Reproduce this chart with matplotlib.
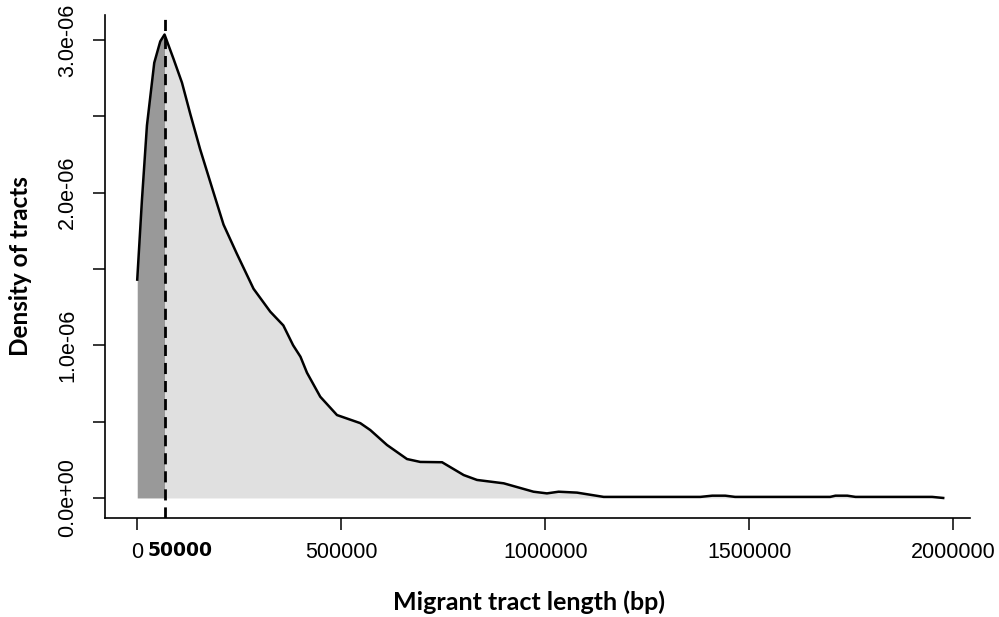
import numpy as np
import matplotlib
matplotlib.use('Agg')
import matplotlib.pyplot as plt
import matplotlib.transforms as mtransforms

# tract length (bp) and density
tract_len = [0, 11500, 23800, 41700, 56400, 66900, 89000, 109600, 130000, 154000,
             187000, 211500, 244000, 285000, 326000, 358000, 382000, 400000, 416000,
             448500, 489500, 546600, 571000, 612000, 661000, 693600, 747000, 800000,
             832600, 898000, 971000, 1004000, 1032600, 1077700, 1143000, 1380000,
             1409000, 1441000, 1465000, 1698000, 1711000, 1740000, 1760000, 1948000,
             1975000]
density = [1.43, 1.95, 2.44, 2.85, 2.99, 3.035, 2.875, 2.72, 2.515, 2.285,
           2.0, 1.79, 1.60, 1.37, 1.22, 1.13, 1.0, 0.925, 0.82,
           0.663, 0.543, 0.49, 0.445, 0.347, 0.255, 0.236, 0.234, 0.15,
           0.118, 0.096, 0.041, 0.03, 0.041, 0.035, 0.007, 0.007,
           0.015, 0.015, 0.007, 0.007, 0.015, 0.015, 0.007, 0.007,
           0.0]
density = [d * 1e-6 for d in density]
peak_x = 66900
peak_label = "50000"

x = np.array(tract_len)
y = np.array(density)
k = tract_len.index(peak_x)

fig = plt.figure(figsize=(9.99, 6.17), dpi=100)
ax = fig.add_axes([0.1051, 0.1605, 0.866, 0.8152])

ax.fill_between(x[:k + 1], 0, y[:k + 1], color='#999999', lw=0)
ax.fill_between(x[k:], 0, y[k:], color='#e0e0e0', lw=0)
ax.plot(x, y, color='black', lw=1.8)
ax.axvline(peak_x, color='black', lw=2, linestyle=(0, (4, 2.5)))

ax.set_xlim(-79000, 2041000)
ax.set_ylim(-1.31e-7, 3.163e-6)

for s in ['top', 'right']:
    ax.spines[s].set_visible(False)
for s in ['left', 'bottom']:
    ax.spines[s].set_linewidth(1.2)

ax.set_xticks([0, 500000, 1000000, 1500000, 2000000])
ax.set_xticklabels(['0', '500000', '1000000', '1500000', '2000000'],
                   family='Liberation Sans', fontsize=15.5)
yt = np.arange(0, 3.01e-6, 0.5e-6)
ax.set_yticks(yt)
ylab = ['0.0e+00', '', '1.0e-06', '', '2.0e-06', '', '3.0e-06']
ax.set_yticklabels(ylab, family='Liberation Sans', fontsize=15.5,
                   rotation=90, va='center')
ax.tick_params(axis='both', direction='out', length=8.5, width=1.1, color='black')
ax.tick_params(axis='x', pad=9)
ax.tick_params(axis='y', pad=11)

trans = mtransforms.blended_transform_factory(ax.transData, ax.transAxes)
ax.text(105000, -0.0465, peak_label, transform=trans, ha='center', va='top',
        family='DejaVu Sans', fontweight='bold', fontsize=13.5)

ax.set_xlabel('Migrant tract length (bp)', family='Lato', fontweight='bold',
              fontsize=18, labelpad=16)
ax.xaxis.set_label_coords(0.49, -0.145)
ax.set_ylabel('Density of tracts', family='Lato', fontweight='bold',
              fontsize=17.5, labelpad=18)

plt.savefig('out.png', dpi=100)
